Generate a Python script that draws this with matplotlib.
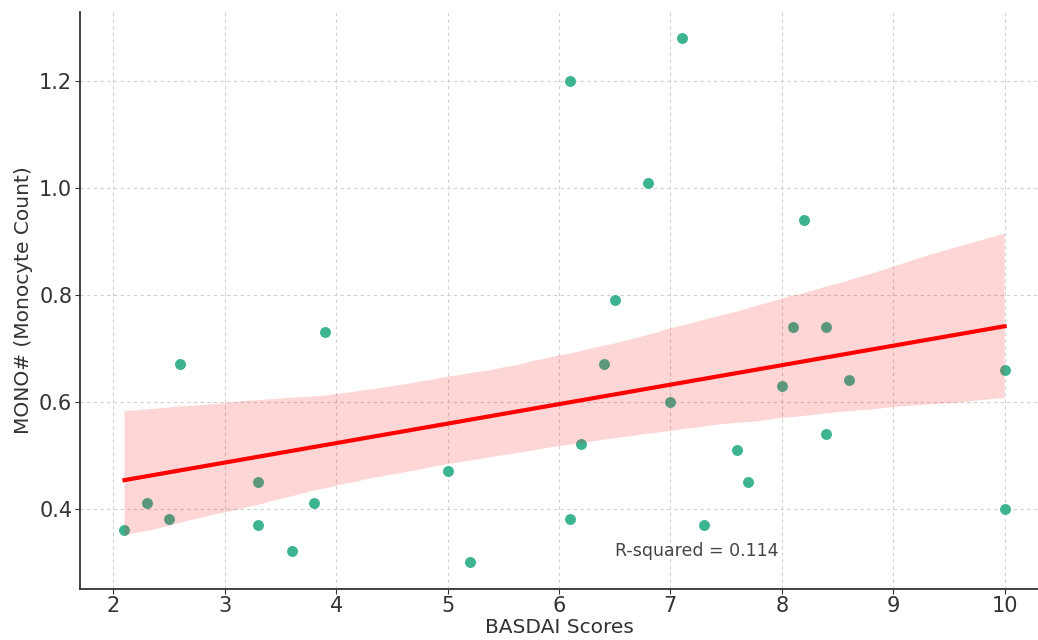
import matplotlib
matplotlib.use("Agg")
import matplotlib.pyplot as plt
import seaborn as sns
import numpy as np
import pandas as pd

# BASDAI vs monocyte count
basdai = [2.1, 2.3, 2.5, 2.6, 3.3, 3.3, 3.6, 3.8, 3.9, 5.0,
          5.2, 6.1, 6.1, 6.2, 6.4, 6.5, 6.8, 7.0, 7.1, 7.3,
          7.6, 7.7, 8.0, 8.1, 8.2, 8.4, 8.4, 8.6, 10.0, 10.0]
mono = [0.36, 0.41, 0.38, 0.67, 0.45, 0.37, 0.32, 0.41, 0.73, 0.47,
        0.30, 1.20, 0.38, 0.52, 0.67, 0.79, 1.01, 0.60, 1.28, 0.37,
        0.51, 0.45, 0.63, 0.74, 0.94, 0.74, 0.54, 0.64, 0.66, 0.40]
r2_label = "R-squared = 0.114"

df = pd.DataFrame({"BASDAI": basdai, "MONO": mono})

fig, ax = plt.subplots(figsize=(10.38, 6.4), dpi=100)
sns.regplot(x="BASDAI", y="MONO", data=df, ax=ax, seed=3,
            scatter_kws={"color": "#3cb492", "s": 62, "alpha": 1, "linewidths": 0},
            line_kws={"color": "red", "lw": 3})
# band colour a bit pinker
for coll in ax.collections[1:]:
    coll.set_facecolor("red")
    coll.set_alpha(0.16)

ax.text(6.5, 0.32, r2_label, fontsize=12.5, color="#444444", va="center")

ax.set_xlabel("BASDAI Scores", fontsize=14.5, color="#333333", labelpad=1)
ax.set_ylabel("MONO# (Monocyte Count)", fontsize=14.5, color="#333333")
ax.tick_params(labelsize=15, colors="#333333", pad=2)
ax.set_xticks(range(2, 11))
ax.set_yticks([0.4, 0.6, 0.8, 1.0, 1.2])
ax.set_xlim(1.7, 10.3)
ax.set_ylim(0.25, 1.33)
ax.grid(True, linestyle=(0, (3, 3)), color="#d0d0d0", lw=0.8)
ax.set_axisbelow(True)
ax.spines["top"].set_visible(False)
ax.spines["right"].set_visible(False)
ax.spines["left"].set_color("#333333")
ax.spines["bottom"].set_color("#333333")
ax.spines["left"].set_linewidth(1.3)
ax.spines["bottom"].set_linewidth(1.3)

plt.subplots_adjust(left=0.077, right=1.0, bottom=0.08, top=0.982)
plt.savefig("out.png", dpi=100)
